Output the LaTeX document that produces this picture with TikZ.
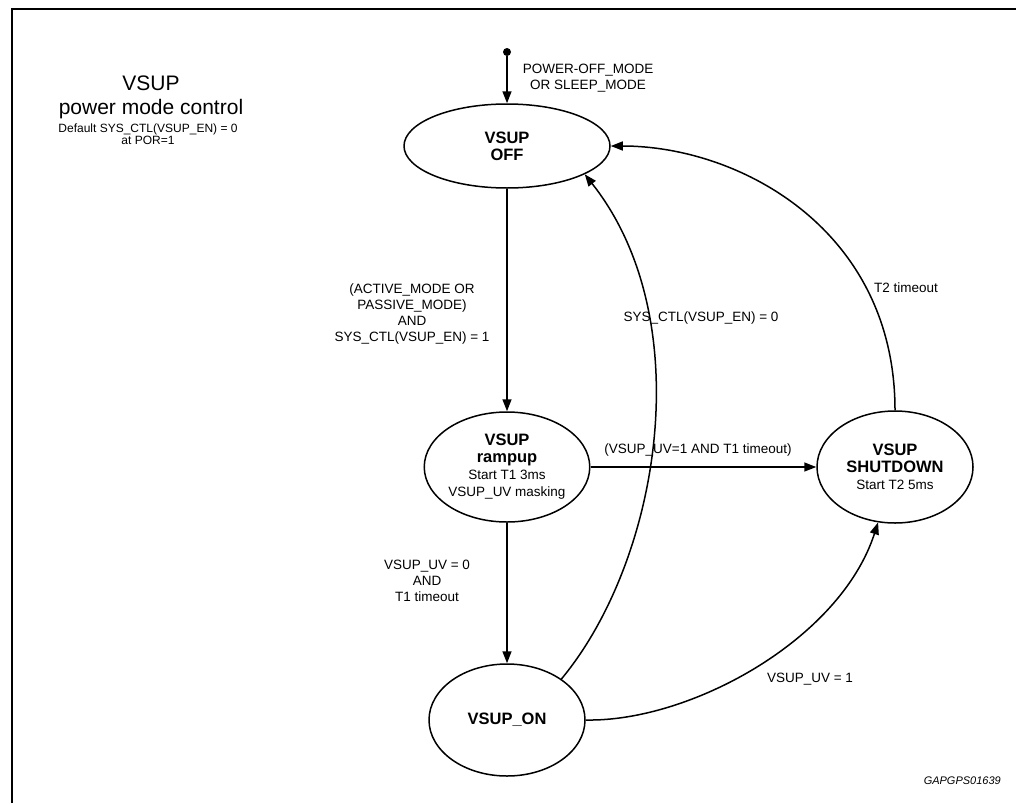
\documentclass[tikz,border=0pt]{standalone}
\usepackage{fontspec}
\setmainfont{Liberation Sans}
\usetikzlibrary{arrows.meta,shapes.geometric}
\newcommand\stB[1]{{\fontsize{16.5}{19}\selectfont\bfseries #1}}
\begin{document}
\begin{tikzpicture}[x=1pt,y=-1pt,
  state/.style={draw,ellipse,line width=1.5pt,inner sep=0pt,align=center,font=\fontsize{13.5}{17}\selectfont},
  arr/.style={line width=1.5pt,-{Triangle[length=12pt,width=9pt]}},
  lbl/.style={inner sep=0pt,font=\fontsize{13.5}{16}\selectfont,align=center}]
\useasboundingbox (0,0) rectangle (1016,803);
\draw[line width=2pt] (12,803) -- (12,9) -- (1016,9);

\node[inner sep=0pt,font=\fontsize{21}{24}\selectfont,align=center] (title) at (151,97) {VSUP\\power mode control};
\node[inner sep=0pt,font=\fontsize{12}{12.5}\selectfont,align=center] (def) at (148,134) {Default SYS\_CTL(VSUP\_EN) = 0\\at POR=1};

\node[circle,fill,inner sep=0pt,minimum size=8pt] (init) at (507,52) {};
\node[state,minimum width=206pt,minimum height=84pt] (off) at (507,146) {\stB{VSUP}\\\stB{OFF}};
\node[state,minimum width=156pt,minimum height=110pt] (ramp) at (507,467) {\stB{VSUP}\\\stB{rampup}\\Start T1 3ms\\VSUP\_UV masking};
\node[state,minimum width=156pt,minimum height=112pt] (shut) at (895,467) {\stB{VSUP}\\\stB{SHUTDOWN}\\Start T2 5ms};
\node[state,minimum width=156pt,minimum height=112pt] (on) at (507,720) {\stB{VSUP\_ON}};

\draw[arr] (init) -- (off);
\draw[arr] (off) -- (ramp);
\draw[arr] (ramp) -- (on);
\draw[arr] (ramp) -- (shut);
\draw[arr] (shut.north) .. controls (895,230) and (740,146) .. (off.east);
\draw[arr] (on.37) .. controls (660,560) and (700,320) .. (off.-20);
\draw[arr] (on.east) .. controls (690,722) and (840,640) .. (shut.-107);

\node[lbl] (l1) at (588,78) {POWER-OFF\_MODE\\OR SLEEP\_MODE};
\node[lbl] (l2) at (412,314) {(ACTIVE\_MODE OR\\PASSIVE\_MODE)\\AND\\SYS\_CTL(VSUP\_EN) = 1};
\node[lbl] (l3) at (701,318) {SYS\_CTL(VSUP\_EN) = 0};
\node[lbl] (l4) at (906,288) {T2 timeout};
\node[lbl] (l5) at (698,450) {(VSUP\_UV=1 AND T1 timeout)};
\node[lbl] (l6) at (427,581) {VSUP\_UV = 0\\AND\\T1 timeout};
\node[lbl] (l7) at (810,679) {VSUP\_UV = 1};
\node[inner sep=0pt,anchor=east,font=\fontsize{11}{13}\selectfont\itshape] (code) at (1001,781) {GAPGPS01639};
\end{tikzpicture}
\end{document}
